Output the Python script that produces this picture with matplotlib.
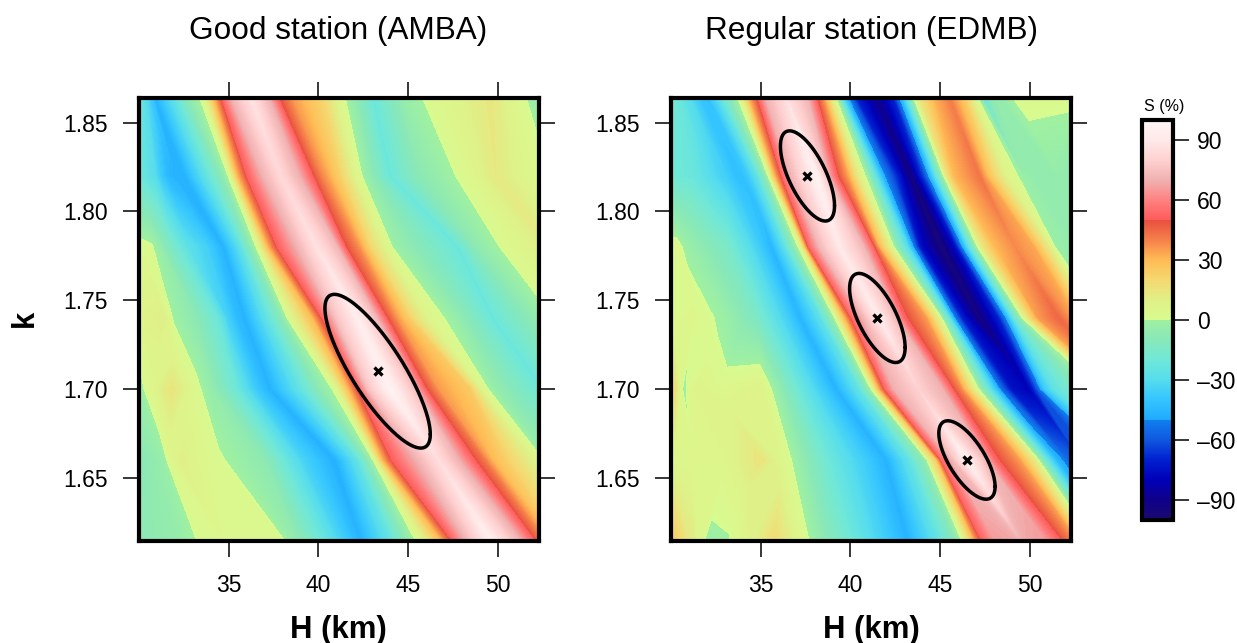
import numpy as np
import matplotlib
matplotlib.use('Agg')
import matplotlib.pyplot as plt
from matplotlib.colors import LinearSegmentedColormap, Normalize
from matplotlib.cm import ScalarMappable

plt.rcParams['font.family'] = ['Liberation Sans', 'DejaVu Sans']

# k levels of the table rows
k_rows = [1.870, 1.82, 1.78, 1.74, 1.70, 1.66, 1.610]

# Good station: H position of each band node, per k row, and S (%) at that node
h_good = [
    [28.4,28.8,29.2,29.6,29.8,30.1,30.3,30.5,30.7,31.6,32.5,33.4,34.0,34.4,34.9,36.0,37.0,37.5,38.3,40.1,41.1,41.8,42.9,44.8,46.3,49.6,51.8,53.4],
    [28.4,29.2,29.7,30.3,30.9,31.2,31.6,32.0,32.6,33.6,34.65,35.1,35.5,36.0,36.9,37.9,38.9,39.6,40.1,41.2,42.2,42.6,44.0,45.5,48.3,49.9,53.6,55.5],
    [28.4,29.2,30.1,30.7,31.0,31.8,32.7,33.8,34.7,35.6,36.3,36.7,37.2,37.7,38.8,39.9,41.0,41.5,42.2,42.9,43.8,44.3,47.8,48.8,50.6,52.9,55.5,57.3],
    [28.4,30.1,31.4,31.9,33.3,34.4,34.9,35.4,35.9,37.0,37.9,38.4,39.7,40.2,41.0,42.2,43.2,43.8,44.4,45.3,46.2,47.5,49.7,52.7,53.6,55.5,57.3,59.2],
    [28.4,30.1,30.7,31.8,33.1,34.0,35.5,36.5,37.3,38.8,40.1,41.0,41.7,42.2,42.8,44.0,45.3,46.0,46.7,48.4,49.2,49.9,52.5,55.5,56.4,58.3,60.1,62.0],
    [28.4,30.1,31.4,31.7,32.3,34.5,37.0,39.2,40.9,42.2,42.9,43.2,43.6,44.1,45.5,46.7,47.8,48.6,49.2,49.7,52.0,52.9,55.5,57.3,58.3,60.1,62.0,63.8],
    [28.4,30.1,32.3,33.8,34.9,38.3,38.8,40.7,42.5,44.2,45.3,46.0,47.2,47.8,48.5,49.9,51.6,52.4,53.1,54.0,55.5,56.4,57.3,59.2,60.1,62.0,63.8,65.7],
]
s_good = [
    [-22,-22,-22,-22,-23,-25,-30,-38,-46,-28,-8,3,30,50,70,88,70,50,35,20,3,-5,-22,-3,3,14,-3,-3],
    [-22,-22,-22,-24,-30,-38,-45,-47,-46,-28,-8,4,30,50,70,83,70,52,40,22,4,-3,-22,-10,3,13,-3,-3],
    [3,3,3,1,-3,-15,-27,-36,-47,-28,-6,5,30,50,70,87,72,50,38,20,5,-3,-22,-8,3,12,-3,-3],
    [6,8,10,-1,-10,-22,-35,-43,-47,-28,-10,4,30,50,75,93,72,50,35,18,5,-3,-22,-3,3,14,-3,-3],
    [-2,-2,5,15,3,-5,-22,-38,-47,-28,-8,3,30,50,75,97,75,50,35,25,3,-5,-22,-3,3,14,-3,-3],
    [-10,-10,-3,4,10,1,-8,-35,-48,-25,-5,5,30,50,70,85,70,52,42,30,8,-5,-22,-3,3,14,-3,-3],
    [-8,-8,-5,2,3,2,-5,-25,-47,-25,-5,5,30,50,70,95,70,50,35,20,3,-5,-22,-3,3,14,-3,-3],
]

# Regular station, same layout
h_reg = [
    [28.3,28.8,29.4,29.8,30.1,30.7,31.1,31.3,31.7,32.3,33.1,33.7,34.2,34.7,35.1,36.2,37.4,37.9,38.3,38.8,39.06,39.24,39.6,40.0,41.2,42.2,42.7,43.0,43.3,43.7,44.6,45.3,46.1,46.7,47.2,47.6,49.0,52.2,53.5],
    [28.3,29.0,30.2,31.2,32.2,33.1,33.6,34.0,34.3,34.8,35.3,35.5,35.8,36.2,36.65,38.1,38.7,39.2,39.8,40.4,41.0,41.6,41.9,42.45,43.4,44.2,44.7,44.95,45.2,45.4,45.8,47.2,47.8,48.65,49.6,50.1,51.6,52.5,54.4],
    [28.3,29.0,30.3,30.8,32.2,33.1,34.4,35.0,35.6,36.3,36.9,37.3,37.5,37.7,38.3,39.4,40.7,41.25,41.6,42.3,42.6,43.2,43.5,43.9,45.1,45.9,46.3,46.7,47.1,47.45,48.1,49.2,50.2,51.05,51.5,52.35,53.5,55.3,57.2],
    [28.3,29.4,30.1,31.2,33.1,34.0,34.8,36.4,37.2,38.3,39.0,39.3,39.7,40.1,40.7,41.6,42.5,43.0,44.2,45.0,45.2,45.5,45.8,46.2,47.2,48.3,48.7,49.1,49.6,50.0,50.5,51.6,52.7,53.5,54.4,55.3,56.2,57.2,59.0],
    [28.3,29.4,30.2,30.7,31.3,32.7,35.0,37.2,39.2,40.5,41.05,41.3,41.6,41.95,42.45,43.8,45.1,45.7,46.15,47.0,47.45,48.1,48.4,49.0,50.0,50.4,50.85,51.4,53.85,54.3,54.75,55.3,55.9,56.6,57.5,58.5,59.4,60.3,62.2],
    [28.3,29.4,30.2,31.2,33.1,35.0,36.2,38.7,42.0,43.3,44.2,44.4,44.8,45.1,45.7,46.5,47.5,48.1,49.4,50.3,50.6,51.0,51.5,52.1,52.9,53.8,54.8,55.7,56.6,57.5,58.5,59.4,60.3,61.2,62.2,63.1,64.0,65.0,66.8],
    [28.3,29.4,30.2,31.2,31.8,32.9,35.7,38.3,43.3,45.1,46.0,46.6,47.2,47.6,48.3,49.8,51.2,52.1,52.9,53.5,54.0,54.6,55.1,55.7,56.6,57.5,58.5,59.4,60.3,61.2,62.2,63.1,64.0,65.0,65.9,66.8,67.7,68.6,70.5],
]
s_reg = [
    [-20,-20,-20,-20,-20,-28,-36,-40,-43,-30,-8,5,33,52,70,85,72,52,35,8,-5,-25,-50,-70,-90,-70,-40,-20,0,15,32,40,25,5,-25,-8,3,3,3],
    [-18,-18,-20,-22,-30,-37,-42,-42,-38,-26,-5,5,30,52,70,97,72,52,35,12,-5,-35,-50,-65,-95,-60,-30,-15,0,15,30,42,25,8,-3,-5,-5,-8,-8],
    [3,3,3,-2,-10,-15,-30,-38,-46,-28,-6,8,30,52,72,90,72,52,30,5,-8,-30,-50,-75,-98,-75,-48,-22,0,15,30,38,33,12,-3,-5,-5,-5,-5],
    [3,3,3,5,-3,-9,-15,-35,-46,-28,-5,8,30,52,70,92,72,52,35,5,-8,-25,-50,-70,-95,-70,-50,-25,0,18,35,45,30,8,-4,-5,-5,-5,-5],
    [18,18,18,-3,8,4,8,-22,-47,-25,-5,8,30,52,70,80,70,50,38,5,-12,-40,-55,-75,-80,-62,-38,-25,0,15,30,40,30,8,-4,-5,-5,-5,-5],
    [5,5,5,5,6,15,5,-20,-47,-25,-5,8,25,52,72,95,72,52,35,10,-5,-25,-45,-55,-60,-60,-50,-30,0,15,30,40,30,8,-4,-5,-5,-5,-5],
    [25,25,25,12,-3,-3,20,-5,-47,-25,-10,5,35,52,65,68,65,50,35,10,-5,-25,-45,-60,-70,-60,-50,-30,0,15,30,40,30,8,-4,-5,-5,-5,-5],
]

# best fits and their error ellipses: H, k, half width (km), half height, tilt
good_fits = [(43.3, 1.71, 2.94, 0.0433, 0.82)]
reg_fits = [(37.6, 1.82, 1.51, 0.0254, 0.66),
            (41.5, 1.74, 1.55, 0.0251, 0.66),
            (46.5, 1.66, 1.57, 0.0221, 0.68)]

h_ticks = [35, 40, 45, 50]
k_ticks = [1.65, 1.70, 1.75, 1.80, 1.85]
k_labels = ['1.65', '1.70', '1.75', '1.80', '1.85']
s_ticks = [-90, -60, -30, 0, 30, 60, 90]
s_labels = ['–90', '–60', '–30', '0', '30', '60', '90']

# colour table with the jumps at -50, 0 and 50
cpt = [(-100, '#1a0a70'), (-90, '#10008a'), (-80, '#0000b8'), (-70, '#0020d0'), (-60, '#1058e0'),
       (-50, '#1080f0'), (-50, '#20aaff'), (-40, '#35c5ff'), (-30, '#55dced'), (-20, '#70e8d8'),
       (-10, '#88e8b8'), (0, '#a0f0a0'), (0, '#d8fb90'), (10, '#e0f088'), (20, '#f5d870'),
       (30, '#ffbb55'), (40, '#f5804a'), (50, '#e85040'), (50, '#ff5a5a'), (60, '#ff8080'),
       (70, '#f0b0b0'), (80, '#ffd0d0'), (90, '#ffe8e8'), (100, '#fff5f5')]
cmap = LinearSegmentedColormap.from_list('s_cpt', [((v + 100) / 200, c) for v, c in cpt], N=800)
norm = Normalize(-100, 100)

W, H = 1237, 643
fig = plt.figure(figsize=(W / 100, H / 100), dpi=100)


def add_axes_px(x0, y0, x1, y1):
    return fig.add_axes([x0 / W, 1 - y1 / H, (x1 - x0) / W, (y1 - y0) / H])


def draw_panel(ax, h_nodes, s_nodes, fits):
    rows = np.array(k_rows)
    hh = np.array(h_nodes, dtype=float)
    ss = np.array(s_nodes, dtype=float)
    kk = np.tile(rows[:, None], (1, hh.shape[1]))
    ax.contourf(hh, kk, ss, levels=np.arange(-100, 101, 1), cmap=cmap, norm=norm, antialiased=False)
    for hc, kc, dh, dk, rho in fits:
        t = np.linspace(0, 2 * np.pi, 200)
        ax.plot(hc + dh * np.cos(t), kc + dk * (-rho * np.cos(t) + np.sqrt(1 - rho ** 2) * np.sin(t)),
                color='k', lw=2.5, solid_capstyle='round')
        ax.plot(hc, kc, marker='x', color='k', ms=5.5, mew=2.4)
    ax.set_xlim(30, 52.29)
    ax.set_ylim(1.6142, 1.8639)
    ax.set_xticks(h_ticks)
    ax.set_yticks(k_ticks)
    ax.set_yticklabels(k_labels)
    ax.tick_params(which='major', direction='out', length=11.5, width=1.1, labelsize=16.5,
                   top=True, right=True)
    ax.tick_params(axis='x', pad=12)
    ax.tick_params(axis='y', pad=11)
    for sp in ax.spines.values():
        sp.set_linewidth(3)


ax1 = add_axes_px(139.3, 98, 538.7, 541.3)
ax2 = add_axes_px(671.3, 98, 1070.7, 541.3)
draw_panel(ax1, h_good, s_good, good_fits)
draw_panel(ax2, h_reg, s_reg, reg_fits)

cax = add_axes_px(1141.8, 120.2, 1173, 519.5)
cb = fig.colorbar(ScalarMappable(norm=norm, cmap=cmap), cax=cax)
cb.set_ticks(s_ticks)
cb.set_ticklabels(s_labels)
cb.ax.tick_params(direction='out', length=11.5, width=1.1, labelsize=16.5, pad=6)
cb.outline.set_linewidth(3)

fig.text(338 / W, 1 - 31 / H, 'Good station (AMBA)', fontsize=22.7, ha='center', va='center')
fig.text(871 / W, 1 - 31 / H, 'Regular station (EDMB)', fontsize=22.7, ha='center', va='center')
fig.text(338 / W, 1 - 630 / H, 'H (km)', fontsize=22.4, fontweight='bold', ha='center', va='center')
fig.text(871 / W, 1 - 630 / H, 'H (km)', fontsize=22.4, fontweight='bold', ha='center', va='center')
fig.text(25 / W, 1 - 318 / H, 'k', fontsize=22.4, fontweight='bold', rotation=90, ha='center', va='center')
fig.text(1164 / W, 1 - 106 / H, 'S (%)', fontsize=11.5, ha='center', va='center')

fig.savefig('out.png', dpi=100)
